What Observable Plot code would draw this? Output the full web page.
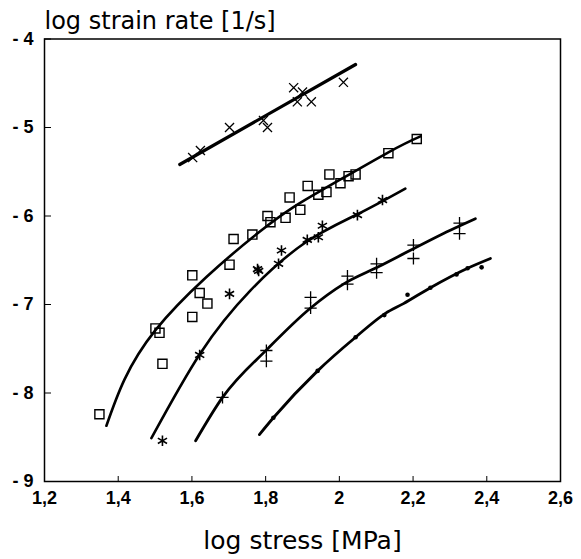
<!DOCTYPE html>
<html><head><meta charset="utf-8">
<script src="https://cdn.jsdelivr.net/npm/d3@7"></script>
<script src="https://cdn.jsdelivr.net/npm/@observablehq/plot@0.6"></script>
<style>body{margin:0;background:#fff}</style>
</head><body><div id="chart"></div>
<script>
const xTicks = [1.2, 1.4, 1.6, 1.8, 2.0, 2.2, 2.4, 2.6];
const yTicks = [-4, -5, -6, -7, -8, -9];
const xLabel = "log stress [MPa]";
const yLabel = "log strain rate [1/s]";

// series 1: × markers and straight fit
const crossX = [1.602, 1.623, 1.702, 1.794, 1.805, 1.876, 1.900, 1.886, 1.924, 2.011];
const crossY = [-5.34, -5.26, -5.00, -4.92, -5.00, -4.55, -4.60, -4.71, -4.71, -4.49];
const crossFitX = [1.567, 2.044];
const crossFitY = [-5.418, -4.288];

// series 2: open squares
const squareX = [1.349, 1.501, 1.512, 1.520, 1.601, 1.601, 1.621, 1.642, 1.702, 1.713, 1.764, 1.805, 1.813, 1.854, 1.894, 1.865, 1.914, 1.943, 1.965, 1.973, 2.003, 2.025, 2.044, 2.133, 2.21];
const squareY = [-8.24, -7.27, -7.32, -7.67, -7.14, -6.67, -6.87, -6.99, -6.55, -6.26, -6.21, -6.00, -6.07, -6.02, -5.93, -5.79, -5.66, -5.76, -5.73, -5.53, -5.63, -5.55, -5.53, -5.29, -5.13];
const squareFitX = [1.368, 1.501, 1.780, 1.956, 2.133, 2.220];
const squareFitY = [-8.37, -7.29, -6.19, -5.70, -5.28, -5.10];

// series 3: asterisks
const starX = [1.520, 1.621, 1.702, 1.778, 1.781, 1.843, 1.835, 1.913, 1.943, 1.954, 2.049, 2.117];
const starY = [-8.54, -7.57, -6.88, -6.60, -6.62, -6.39, -6.54, -6.27, -6.24, -6.11, -5.99, -5.82];
const starFitX = [1.490, 1.623, 1.759, 1.908, 2.049, 2.179];
const starFitY = [-8.51, -7.55, -6.84, -6.30, -5.98, -5.69];

// series 4: plus signs
const plusX = [1.683, 1.802, 1.802, 1.922, 1.922, 2.022, 2.022, 2.101, 2.101, 2.201, 2.201, 2.326, 2.326];
const plusY = [-8.05, -7.52, -7.64, -6.92, -7.04, -6.68, -6.77, -6.54, -6.64, -6.33, -6.48, -6.08, -6.20];
const plusFitX = [1.610, 1.683, 1.808, 1.922, 2.011, 2.103, 2.301, 2.369];
const plusFitY = [-8.54, -8.05, -7.49, -7.04, -6.77, -6.58, -6.16, -6.03];

// series 5: filled dots
const dotX = [1.821, 1.941, 2.044, 2.122, 2.185, 2.247, 2.318, 2.348, 2.386];
const dotY = [-8.28, -7.75, -7.37, -7.12, -6.89, -6.81, -6.66, -6.59, -6.58];
const dotFitX = [1.783, 1.821, 1.941, 2.044, 2.125, 2.174, 2.247, 2.348, 2.410];
const dotFitY = [-8.47, -8.28, -7.75, -7.37, -7.10, -6.99, -6.81, -6.59, -6.48];

const pts = (xs, ys) => xs.map((x, i) => ({x, y: ys[i]}));
const font = "'Liberation Sans', Arial, Helvetica, sans-serif";
const titleFont = "'DejaVu Sans', Verdana, sans-serif";

const chart = Plot.plot({
  width: 581,
  height: 559,
  marginLeft: 44,
  marginRight: 21,
  marginTop: 38.5,
  marginBottom: 78,
  style: {fontFamily: font, background: "#fff", color: "#000"},
  x: {domain: [1.2, 2.6]},
  y: {domain: [-9, -4]},
  marks: [
    Plot.frame({stroke: "#000", strokeWidth: 1.5}),
    Plot.axisX({ticks: xTicks, tickSize: -5, tickPadding: 15, tickFormat: d => String(d).replace(".", ","), fontSize: 18, fontWeight: "bold", label: null}),
    Plot.axisY({ticks: yTicks, tickSize: -7, tickPadding: 18, tickFormat: d => "- " + Math.abs(d), fontSize: 18, fontWeight: "bold", label: null}),
    Plot.text([yLabel], {frameAnchor: "top-left", dy: -10, textAnchor: "start", lineAnchor: "bottom", fontSize: 24, fontFamily: titleFont}),
    Plot.text([xLabel], {frameAnchor: "bottom", dy: 59, lineAnchor: "middle", fontSize: 25, fontFamily: titleFont}),
    Plot.line(pts(crossFitX, crossFitY), {x: "x", y: "y", stroke: "#000", strokeWidth: 3.2}),
    Plot.line(pts(squareFitX, squareFitY), {x: "x", y: "y", curve: "natural", stroke: "#000", strokeWidth: 2.6}),
    Plot.line(pts(starFitX, starFitY), {x: "x", y: "y", curve: "natural", stroke: "#000", strokeWidth: 2.6}),
    Plot.line(pts(plusFitX, plusFitY), {x: "x", y: "y", curve: "monotone-x", stroke: "#000", strokeWidth: 2.8}),
    Plot.line(pts(dotFitX, dotFitY), {x: "x", y: "y", curve: "monotone-x", stroke: "#000", strokeWidth: 2.8}),
    Plot.dot(pts(crossX, crossY), {x: "x", y: "y", symbol: "times", r: 4.2, stroke: "#000", strokeWidth: 1.3}),
    Plot.dot(pts(squareX, squareY), {x: "x", y: "y", symbol: "square2", r: 5.8, fill: "none", stroke: "#000", strokeWidth: 1.4}),
    Plot.dot(pts(starX, starY), {x: "x", y: "y", symbol: "asterisk", r: 5, stroke: "#000", strokeWidth: 1.6}),
    Plot.dot(pts(plusX, plusY), {x: "x", y: "y", symbol: "plus", r: 4, stroke: "#000", strokeWidth: 1.3}),
    Plot.dot(pts(dotX, dotY), {x: "x", y: "y", r: 2.3, fill: "#000"})
  ]
});
document.getElementById("chart").append(chart);
</script>
</body></html>
